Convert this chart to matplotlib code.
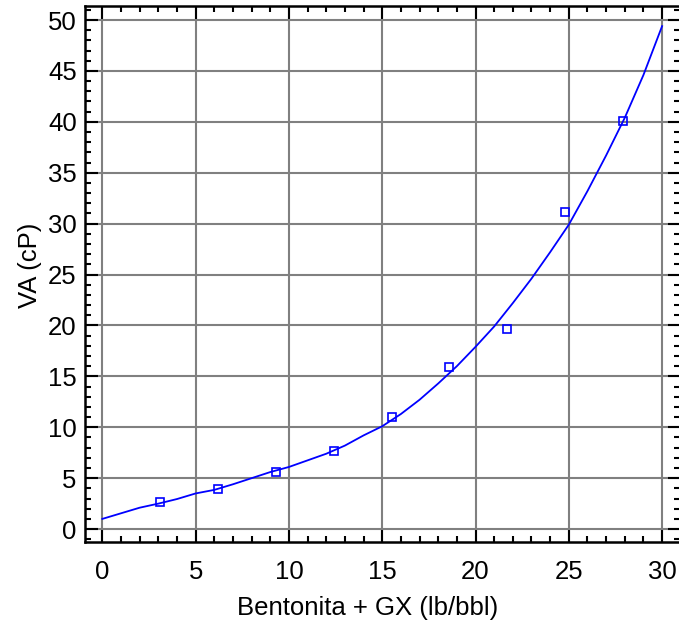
import numpy as np
import matplotlib
matplotlib.use("Agg")
import matplotlib.pyplot as plt
from matplotlib.ticker import MultipleLocator

plt.rcParams['font.family'] = ['Liberation Sans', 'DejaVu Sans']

# observed points
obs_x = [3.1, 6.2, 9.3, 12.4, 15.5, 18.6, 21.7, 24.8, 27.9]
obs_y = [2.7, 3.9, 5.6, 7.7, 11.0, 15.9, 19.7, 31.1, 40.1]

# fitted curve
fit_x = [0, 1, 2, 3, 4, 5, 6, 7, 8, 9, 10, 11, 12, 13, 14, 15,
         16, 17, 18, 19, 20, 21, 22, 23, 24, 25, 26, 27, 28, 29, 30]
fit_y = [1.0, 1.55, 2.1, 2.5, 2.95, 3.5, 3.85, 4.4, 5.0, 5.6, 6.1, 6.75,
         7.4, 8.2, 9.2, 10.1, 11.3, 12.7, 14.3, 16.0, 17.9, 19.9, 22.2,
         24.6, 27.2, 29.9, 33.2, 36.7, 40.4, 44.6, 49.4]

x_ticks = [0, 5, 10, 15, 20, 25, 30]
y_ticks = [0, 5, 10, 15, 20, 25, 30, 35, 40, 45, 50]

fig = plt.figure(figsize=(6.79, 6.27), dpi=100)
ax = fig.add_axes([85/679, 85/627, 595/679, 536/627])

ax.set_xlim(-0.93, 30.96)
ax.set_ylim(-1.27, 51.38)

ax.set_xticks(x_ticks)
ax.set_yticks(y_ticks)
ax.xaxis.set_minor_locator(MultipleLocator(1))
ax.yaxis.set_minor_locator(MultipleLocator(1))

ax.grid(True, which='major', color='#808080', linewidth=1.5, zorder=0)
ax.set_axisbelow(True)

ax.tick_params(which='both', direction='in', top=True, right=True,
               colors='black', width=1.5)
ax.tick_params(which='major', length=9, labelsize=18.5)
ax.tick_params(which='minor', length=4.5)
ax.tick_params(axis='x', which='major', pad=13)
ax.tick_params(axis='y', which='major', pad=6)

for s in ax.spines.values():
    s.set_linewidth(1.8)

ax.plot(fit_x, fit_y, '-', color='#0000FF', linewidth=1.3, zorder=3)
ax.plot(obs_x, obs_y, 's', markerfacecolor='none', markeredgecolor='#0000FF',
        markersize=6, markeredgewidth=1.2, zorder=4)

fig.text(368/679, 1 - 608/627, 'Bentonita + GX (lb/bbl)', fontsize=18.5,
         ha='center', va='center')
fig.text(30/679, 1 - 265/627, 'VA (cP)', fontsize=18.5, rotation=90,
         ha='center', va='center')

fig.savefig('out.png', dpi=100)
